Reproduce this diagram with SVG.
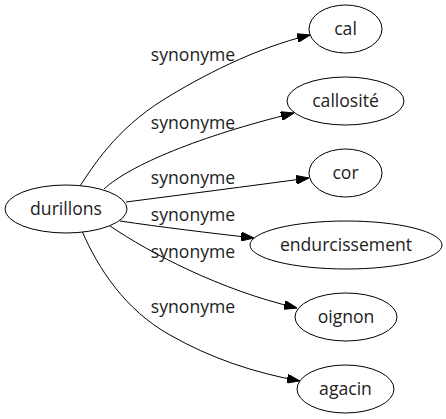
<svg xmlns="http://www.w3.org/2000/svg" width="446" height="419" viewBox="0 0 446 419">
<style>
  .node ellipse { fill: #ffffff; stroke: #000000; stroke-width: 1; }
  text { font-family: "Open Sans", "DejaVu Sans", sans-serif; font-size: 17.6px; fill: #222222; text-anchor: middle; }
  .edge path { fill: none; stroke: #000000; stroke-width: 1; marker-end: url(#arrow); }
</style>
<defs>
  <marker id="arrow" viewBox="0 0 13 9" refX="13" refY="4.5" markerWidth="13" markerHeight="9" markerUnits="userSpaceOnUse" orient="auto">
    <path d="M0,0 L13,4.5 L0,9 z" fill="#000000" stroke="#000000" stroke-width="1"/>
  </marker>
</defs>
<rect width="446" height="419" fill="#ffffff"/>
<g id="edges">
  <g class="edge" id="e-cal"><path d="M80,186 C92,168 115,130 163,100 C200,77 255,48 310,35"/><text x="193" y="61">synonyme</text></g>
  <g class="edge" id="e-callosite"><path d="M104,189 C130,165 200,136 294,113"/><text x="193" y="129">synonyme</text></g>
  <g class="edge" id="e-cor"><path d="M126,202 C180,195 250,186 309,178"/><text x="193" y="184">synonyme</text></g>
  <g class="edge" id="e-endurcissement"><path d="M120,221 C160,227 210,233 254,238"/><text x="193" y="221">synonyme</text></g>
  <g class="edge" id="e-oignon"><path d="M110,226 C150,253 220,290 297,308"/><text x="193" y="258">synonyme</text></g>
  <g class="edge" id="e-agacin"><path d="M82,231 C98,268 125,310 170,335 C210,358 255,373 300,381"/><text x="193" y="313">synonyme</text></g>
</g>
<g class="node" id="durillons"><ellipse cx="66" cy="209" rx="61" ry="24"/><text x="66" y="215">durillons</text></g>
<g class="node" id="cal"><ellipse cx="345.5" cy="29" rx="36.5" ry="24"/><text x="345.5" y="35">cal</text></g>
<g class="node" id="callosite"><ellipse cx="345.5" cy="101" rx="58.5" ry="24"/><text x="345.5" y="107">callosité</text></g>
<g class="node" id="cor"><ellipse cx="345.5" cy="173" rx="36.5" ry="24"/><text x="345.5" y="179">cor</text></g>
<g class="node" id="endurcissement"><ellipse cx="346" cy="245" rx="96" ry="24"/><text x="346" y="251">endurcissement</text></g>
<g class="node" id="oignon"><ellipse cx="346" cy="317" rx="51" ry="24"/><text x="346" y="323">oignon</text></g>
<g class="node" id="agacin"><ellipse cx="345.5" cy="389" rx="48.5" ry="24"/><text x="345.5" y="395">agacin</text></g>
</svg>
